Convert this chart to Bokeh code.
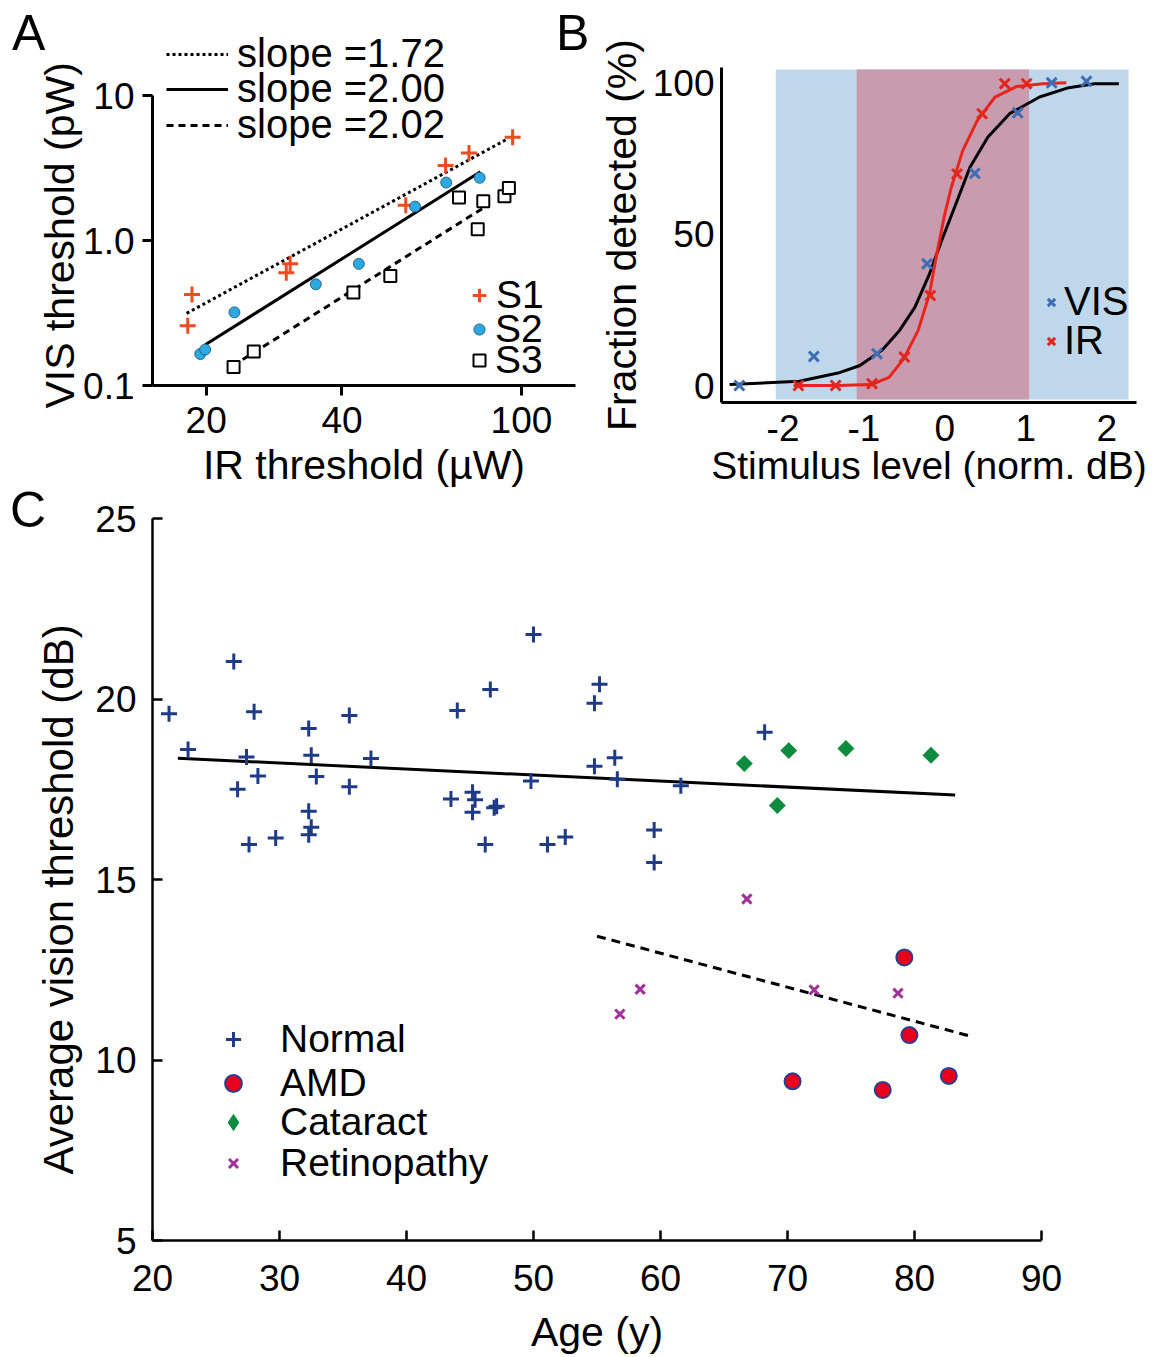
from bokeh.plotting import figure
from bokeh.models import Range1d, FixedTicker, Legend, LegendItem, BoxAnnotation, Div, Title
from bokeh.layouts import column, row
from bokeh.embed import file_html
from bokeh.resources import INLINE
import math

FONT = "Liberation Sans"
TICK_FS = "37px"
TITLE_FS = "41px"

# ---------------- Panel A data ----------------
s1_ir = [18.6, 18.2, 30.1, 30.7, 55.4, 67.9, 76.5, 95.6]
s1_vis = [0.425, 0.259, 0.601, 0.692, 1.76, 3.31, 4.03, 5.19]
s2_ir = [19.4, 19.9, 23.1, 35.0, 43.6, 58.1, 68.1, 80.8]
s2_vis = [0.165, 0.177, 0.320, 0.500, 0.692, 1.72, 2.52, 2.72]
s3_ir = [23.0, 25.5, 42.4, 51.2, 72.7, 80.0, 82.3, 91.7, 93.8]
s3_vis = [0.134, 0.172, 0.438, 0.570, 1.99, 1.20, 1.87, 2.03, 2.31]
fit1_ir = [18.1, 93.0]
fit1_vis = [0.315, 5.03]
fit2_ir = [19.9, 81.1]
fit2_vis = [0.191, 2.99]
fit3_ir = [24.1, 84.7]
fit3_vis = [0.151, 1.78]
slope_labels = ["slope =1.72", "slope =2.00", "slope =2.02"]
subject_labels = ["S1", "S2", "S3"]
A_xticks = [20, 40, 100]
A_yticks = [0.1, 1, 10]
A_ytick_labels = ["0.1", "1.0", "10"]

# ---------------- Panel B data ----------------
vis_level = [-2.54, -1.62, -0.84, -0.22, 0.37, 0.90, 1.32, 1.75]
vis_pct = [0.0, 9.6, 10.5, 40.2, 70.1, 90.1, 100.0, 100.5]
ir_level = [-1.81, -1.35, -0.90, -0.50, -0.18, 0.15, 0.46, 0.74, 1.01]
ir_pct = [0.0, 0.0, 0.6, 9.4, 29.7, 69.9, 89.8, 99.7, 99.7]
vis_fit_level = [-2.66, -1.80, -1.32, -1.05, -0.78, -0.56, -0.37, -0.19, -0.04,
                 0.12, 0.31, 0.53, 0.80, 1.17, 1.53, 1.85, 2.15]
vis_fit_pct = [0.3, 1.4, 4.1, 6.6, 11.6, 18.2, 25.9, 36.9, 47.9,
               58.9, 72.1, 82.0, 89.8, 95.3, 98.4, 99.7, 99.7]
ir_fit_level = [-1.87, -1.32, -0.91, -0.69, -0.51, -0.33, -0.19, -0.10, -0.01,
                0.08, 0.22, 0.40, 0.62, 0.89, 1.21, 1.50]
ir_fit_pct = [0.0, 0.0, 0.3, 2.7, 8.8, 18.2, 30.3, 43.5, 55.6,
              65.5, 77.6, 87.5, 95.3, 98.8, 99.7, 100.0]
blue_band = (-2.09, 2.27)
mauve_band = (-1.09, 1.04)
band_pct = (-4.6, 104.4)
B_xticks = [-2, -1, 0, 1, 2]
B_yticks = [0, 50, 100]

# ---------------- Panel C data ----------------
normal_age = [21.3, 22.8, 26.4, 28.0, 27.4, 28.3, 26.7, 27.6, 29.7, 32.3,
              32.5, 32.9, 32.3, 32.5, 32.3, 35.5, 35.5, 37.2, 44.0, 46.6,
              43.5, 45.2, 45.4, 45.2, 47.1, 46.9, 46.2, 50.0, 49.8, 51.1,
              52.5, 55.2, 54.8, 54.8, 56.4, 56.6, 59.5, 59.5, 68.2, 61.6]
normal_db = [19.59, 18.60, 21.04, 19.65, 18.39, 17.87, 17.50, 15.97, 16.15, 19.18,
             18.44, 17.85, 16.89, 16.45, 16.24, 19.54, 17.57, 18.35, 19.68, 20.26,
             17.23, 17.42, 17.21, 16.86, 17.03, 16.99, 15.97, 21.79, 17.73, 15.97,
             16.18, 20.41, 19.88, 18.14, 18.37, 17.78, 16.37, 15.47, 19.08, 17.60]
amd_age = [79.2, 79.6, 70.4, 77.5, 82.7]
amd_db = [12.84, 10.69, 9.41, 9.17, 9.56]
cataract_age = [66.6, 70.1, 74.6, 81.3, 69.2]
cataract_db = [18.21, 18.57, 18.63, 18.44, 17.05]
retino_age = [66.8, 58.4, 56.8, 72.1, 78.7]
retino_db = [14.46, 11.96, 11.27, 11.94, 11.85]
normal_fit_age = [22.0, 83.2]
normal_fit_db = [18.36, 17.34]
disease_fit_age = [55.0, 84.4]
disease_fit_db = [13.43, 10.66]
group_labels = ["Normal", "AMD", "Cataract", "Retinopathy"]
C_xticks = [20, 30, 40, 50, 60, 70, 80, 90]
C_yticks = [5, 10, 15, 20, 25]
panel_letters = ["A", "B", "C"]


def style(p, lw):
    p.grid.visible = False
    p.outline_line_color = None
    p.background_fill_color = None
    p.border_fill_color = None
    for ax in p.axis:
        ax.major_label_text_font = FONT
        ax.major_label_text_font_size = TICK_FS
        ax.major_label_text_color = "black"
        ax.axis_label_text_font = FONT
        ax.axis_label_text_font_size = TITLE_FS
        ax.axis_label_text_font_style = "normal"
        ax.axis_label_text_color = "black"
        ax.axis_line_width = lw
        ax.axis_line_color = "black"
        ax.major_tick_line_width = lw
        ax.major_tick_line_color = "black"
        ax.minor_tick_line_color = None


def side_title(p, text, offset, standoff, fs):
    p.add_layout(Title(text=text, align="left", vertical_align="bottom", offset=offset,
                       standoff=standoff, text_font=FONT, text_font_size=fs,
                       text_font_style="normal", text_color="black"), "left")


def legend_row(p, renderer, label, xc, yc, frame_left, frame_bottom, glyph_w, text_x, fs, h=44):
    left = xc - glyph_w / 2
    leg = Legend(items=[LegendItem(label=label, renderers=[renderer])],
                 location=(float(left - frame_left), float(frame_bottom - yc - h / 2)),
                 padding=0, margin=0, spacing=0,
                 border_line_color=None, background_fill_alpha=0,
                 glyph_width=int(glyph_w), glyph_height=h, label_height=h,
                 label_standoff=int(max(0, round(text_x - (left + glyph_w)))),
                 label_text_font=FONT, label_text_font_size=fs,
                 label_text_color="black")
    p.add_layout(leg)


# ================= Panel A =================
A_W, A_H = 595, 490
A_L, A_R, A_T, A_B = 152, 575, 20, 388
px_per_dec_x = 451.0
x20_px = 205.7
xa0 = 20 * 10 ** ((A_L - x20_px) / px_per_dec_x)
xa1 = 20 * 10 ** ((A_R - x20_px) / px_per_dec_x)
ya1 = 0.1 * 10 ** ((A_B - A_T) / 146.0)

pA = figure(width=A_W, height=A_H, x_axis_type="log", y_axis_type="log",
            x_range=Range1d(xa0, xa1), y_range=Range1d(0.1, ya1),
            output_backend="svg", toolbar_location=None, frame_align=False,
            min_border_left=A_L, min_border_right=A_W - A_R,
            min_border_top=A_T, min_border_bottom=A_H - A_B,
            x_axis_label="IR threshold (µW)")
style(pA, 3)
pA.xaxis.ticker = FixedTicker(ticks=A_xticks)
pA.yaxis.ticker = FixedTicker(ticks=A_yticks)
pA.yaxis.major_label_overrides = {t: s for t, s in zip(A_yticks, A_ytick_labels)}
pA.xaxis.major_label_overrides = {t: str(t) for t in A_xticks}
pA.yaxis.bounds = (0.1, 10)
for ax in pA.axis:
    ax.major_tick_out = 10
    ax.major_tick_in = 0
pA.yaxis.major_label_standoff = 8
pA.xaxis.major_label_standoff = 11
pA.xaxis.axis_label_standoff = 6
side_title(pA, "VIS threshold (pW)", -23, -4, TITLE_FS)

r_f1 = pA.line(fit1_ir, fit1_vis, line_color="black", line_width=3, line_dash="3 3")
r_f2 = pA.line(fit2_ir, fit2_vis, line_color="black", line_width=3)
r_f3 = pA.line(fit3_ir, fit3_vis, line_color="black", line_width=3, line_dash="7 5")
r_s1 = pA.scatter(s1_ir, s1_vis, marker="cross", size=16, line_width=3, line_color="#EE4B22")
r_s2 = pA.scatter(s2_ir, s2_vis, marker="circle", size=11, fill_color="#2BA9E0",
                  line_color="#1B4F72", line_width=0.8)
r_s3 = pA.scatter(s3_ir, s3_vis, marker="square", size=12, fill_color="white",
                  line_color="black", line_width=2)

for r, lab, yc in zip([r_f1, r_f2, r_f3], slope_labels, [57, 92, 128]):
    legend_row(pA, r, lab, 197, yc, A_L, A_B, 62, 237, "40px")
for r, lab, yc, gw in zip([r_s1, r_s2, r_s3], subject_labels, [300, 334, 365], [34, 28, 30]):
    legend_row(pA, r, lab, 479, yc, A_L, A_B, gw, 495, "39px", h=40)

# ================= Panel B =================
B_X0 = 595
B_W, B_H = 1155 - B_X0, 490
B_L, B_R, B_T, B_B = 718, 1136, 67, 402
bx0 = 943.0
bsc = 81.5
ysc = 3.027
y0px = 385.0
pB = figure(width=B_W, height=B_H,
            x_range=Range1d((B_L - bx0) / bsc, (B_R - bx0) / bsc),
            y_range=Range1d((y0px - B_B) / ysc, (y0px - B_T) / ysc),
            output_backend="svg", toolbar_location=None, frame_align=False,
            min_border_left=B_L - B_X0, min_border_right=1155 - B_R,
            min_border_top=B_T, min_border_bottom=B_H - B_B,
            x_axis_label="Stimulus level (norm. dB)", y_axis_label="Fraction detected (%)")
style(pB, 3)
pB.xaxis.axis_label_text_font_size = "39px"
pB.xaxis.ticker = FixedTicker(ticks=B_xticks)
pB.yaxis.ticker = FixedTicker(ticks=B_yticks)
pB.xaxis.major_label_overrides = {t: str(t) for t in B_xticks}
for ax in pB.axis:
    ax.major_tick_out = 0
    ax.major_tick_in = 0
pB.yaxis.major_label_standoff = 7
pB.yaxis.axis_label_standoff = 5
pB.xaxis.major_label_standoff = 12
pB.xaxis.axis_label_standoff = 0

pB.add_layout(BoxAnnotation(left=blue_band[0], right=blue_band[1], bottom=band_pct[0],
                            top=band_pct[1], fill_color="#BED7EA", fill_alpha=1,
                            line_color=None, level="underlay"))
pB.add_layout(BoxAnnotation(left=mauve_band[0], right=mauve_band[1], bottom=band_pct[0],
                            top=band_pct[1], fill_color="#C89BAE", fill_alpha=1,
                            line_color=None, level="underlay"))
pB.line(vis_fit_level, vis_fit_pct, line_color="black", line_width=3)
pB.line(ir_fit_level, ir_fit_pct, line_color="#E8251C", line_width=3)
r_vis = pB.scatter(vis_level, vis_pct, marker="x", size=14, line_width=3, line_color="#3D6DB5")
r_ir = pB.scatter(ir_level, ir_pct, marker="x", size=14, line_width=3, line_color="#E2261D")
legend_row(pB, r_vis, "VIS", 1048, 302, B_L, B_B, 26, 1058, "40px")
legend_row(pB, r_ir, "IR", 1048, 341, B_L, B_B, 26, 1058, "40px")

# ================= Panel C =================
C_Y0 = A_H
C_W, C_H = 1155, 1357 - A_H
C_L, C_R, C_T, C_B = 152, 1041, 518, 1246
pC = figure(width=C_W, height=C_H, x_range=Range1d(20, 90), y_range=Range1d(5, 25),
            output_backend="svg", toolbar_location=None, frame_align=False,
            min_border_left=C_L, min_border_right=C_W - C_R,
            min_border_top=C_T - C_Y0, min_border_bottom=C_Y0 + C_H - C_B,
            x_axis_label="Age (y)")
style(pC, 2.5)
pC.xaxis.ticker = FixedTicker(ticks=C_xticks)
pC.yaxis.ticker = FixedTicker(ticks=C_yticks)
for ax in pC.axis:
    ax.major_tick_out = 0
    ax.major_tick_in = 10
pC.yaxis.major_label_standoff = 16
pC.xaxis.major_label_standoff = 24
pC.xaxis.axis_label_standoff = 15
side_title(pC, "Average vision threshold (dB)", 66, 22, "42px")

pC.line(normal_fit_age, normal_fit_db, line_color="black", line_width=3)
pC.line(disease_fit_age, disease_fit_db, line_color="black", line_width=3, line_dash="9 6")
r_n = pC.scatter(normal_age, normal_db, marker="cross", size=16, line_width=3, line_color="#1F3B87")
r_a = pC.scatter(amd_age, amd_db, marker="circle", size=16, fill_color="#E8001C",
                 line_color="#2B3F8F", line_width=2)
# inner diamond (hidden under the rotated squares) provides the legend key shape
r_c_key = pC.scatter(cataract_age, cataract_db, marker="diamond", size=16,
                     fill_color="#0E8C3E", line_color=None)
pC.scatter(cataract_age, cataract_db, marker="square", size=12, angle=math.pi / 4,
           fill_color="#0E8C3E", line_color=None)
r_r = pC.scatter(retino_age, retino_db, marker="x", size=13, line_width=3, line_color="#A0309A")
for r, lab, yc, gw in zip([r_n, r_a, r_c_key, r_r], group_labels,
                          [1045, 1089, 1128, 1169], [38, 42, 44, 32]):
    legend_row(pC, r, lab, 233, yc, C_L, C_B, gw, 280, "39px")


def letter(t, left, top):
    return Div(text=t, styles={"position": "absolute", "left": f"{left}px", "top": f"{top}px",
                               "font-family": FONT, "font-size": "50px",
                               "line-height": "50px", "color": "black", "z-index": "10",
                               "margin": "0", "padding": "0"})


layout = column(row(pA, pB), pC,
                letter(panel_letters[0], 12, 8),
                letter(panel_letters[1], 556, 8),
                letter(panel_letters[2], 10, 485))
open("out.html", "w").write(file_html(layout, INLINE))
